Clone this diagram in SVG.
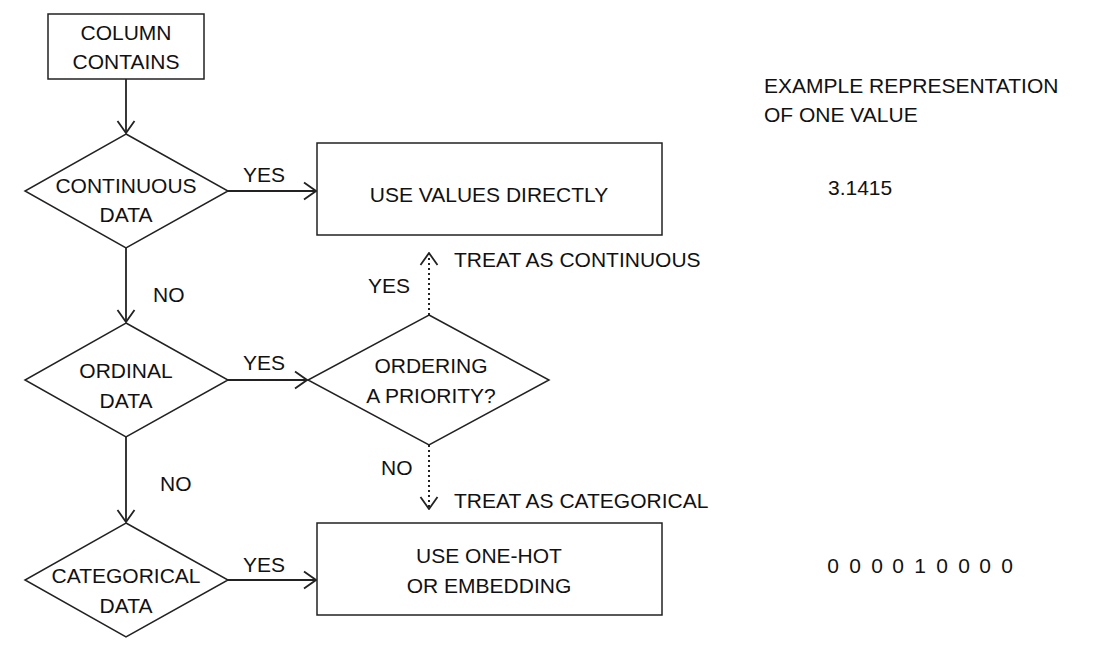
<svg xmlns="http://www.w3.org/2000/svg" width="1113" height="654" viewBox="0 0 1113 654">
<defs>
<style>
.n{fill:#fff;stroke:#222;stroke-width:1.5}
.c{fill:none;stroke:#222;stroke-width:1.8}
.d{fill:none;stroke:#222;stroke-width:2;stroke-dasharray:2 3}
text{font-family:"Liberation Sans",Arial,sans-serif;font-size:21px;fill:#111}
.m{text-anchor:middle}
</style>
<marker id="ah" viewBox="0 0 14 20" refX="13" refY="10" markerWidth="14" markerHeight="20" markerUnits="userSpaceOnUse" orient="auto">
<path d="M1,1.5 L13,10 L1,18.5" fill="none" stroke="#222" stroke-width="1.8"/>
</marker>
</defs>
<rect width="1113" height="654" fill="#fff"/>
<g id="connectors">
<line class="c" x1="126" y1="79" x2="126" y2="133" marker-end="url(#ah)"/>
<line class="c" x1="126" y1="248" x2="126" y2="322" marker-end="url(#ah)"/>
<line class="c" x1="126" y1="437" x2="126" y2="522" marker-end="url(#ah)"/>
<line class="c" x1="228" y1="191" x2="316" y2="191" marker-end="url(#ah)"/>
<line class="c" x1="228" y1="380" x2="307" y2="380" marker-end="url(#ah)"/>
<line class="c" x1="228" y1="580" x2="316" y2="580" marker-end="url(#ah)"/>
<line class="d" x1="429" y1="315" x2="429" y2="253" marker-end="url(#ah)"/>
<line class="d" x1="429" y1="445" x2="429" y2="509" marker-end="url(#ah)"/>
<text x="243" y="182">YES</text>
<text x="153" y="302">NO</text>
<text x="243" y="370">YES</text>
<text x="160" y="491">NO</text>
<text x="243" y="572">YES</text>
<text x="368" y="293">YES</text>
<text x="381" y="475">NO</text>
<text x="454" y="267">TREAT AS CONTINUOUS</text>
<text x="454" y="508">TREAT AS CATEGORICAL</text>
</g>
<g id="column">
<rect class="n" x="48" y="14" width="156" height="65"/>
<text class="m" x="126" y="40">COLUMN</text>
<text class="m" x="126" y="69">CONTAINS</text>
</g>
<g id="continuous">
<polygon class="n" points="126,134 228,191 126,248 25,191"/>
<text class="m" x="126" y="193">CONTINUOUS</text>
<text class="m" x="126" y="222">DATA</text>
</g>
<g id="ordinal">
<polygon class="n" points="126,323 228,380 126,437 25,380"/>
<text class="m" x="126" y="378">ORDINAL</text>
<text class="m" x="126" y="408">DATA</text>
</g>
<g id="categorical">
<polygon class="n" points="126,523 228,580 126,637 25,580"/>
<text class="m" x="126" y="583">CATEGORICAL</text>
<text class="m" x="126" y="613">DATA</text>
</g>
<g id="ordering">
<polygon class="n" points="429,315 549,380 429,445 308,380"/>
<text class="m" x="431" y="373">ORDERING</text>
<text class="m" x="431" y="403">A PRIORITY?</text>
</g>
<g id="use-values">
<rect class="n" x="317" y="143" width="345" height="92"/>
<text class="m" x="489" y="202">USE VALUES DIRECTLY</text>
</g>
<g id="use-onehot">
<rect class="n" x="317" y="523" width="345" height="92"/>
<text class="m" x="489" y="563">USE ONE-HOT</text>
<text class="m" x="489" y="593">OR EMBEDDING</text>
</g>
<g id="examples">
<text x="764" y="93">EXAMPLE REPRESENTATION</text>
<text x="764" y="122">OF ONE VALUE</text>
<text x="828" y="195">3.1415</text>
<text class="m" y="573"><tspan x="833">0</tspan><tspan x="855">0</tspan><tspan x="877">0</tspan><tspan x="898">0</tspan><tspan x="920">1</tspan><tspan x="942">0</tspan><tspan x="964">0</tspan><tspan x="985">0</tspan><tspan x="1007">0</tspan></text>
</g>
</svg>
